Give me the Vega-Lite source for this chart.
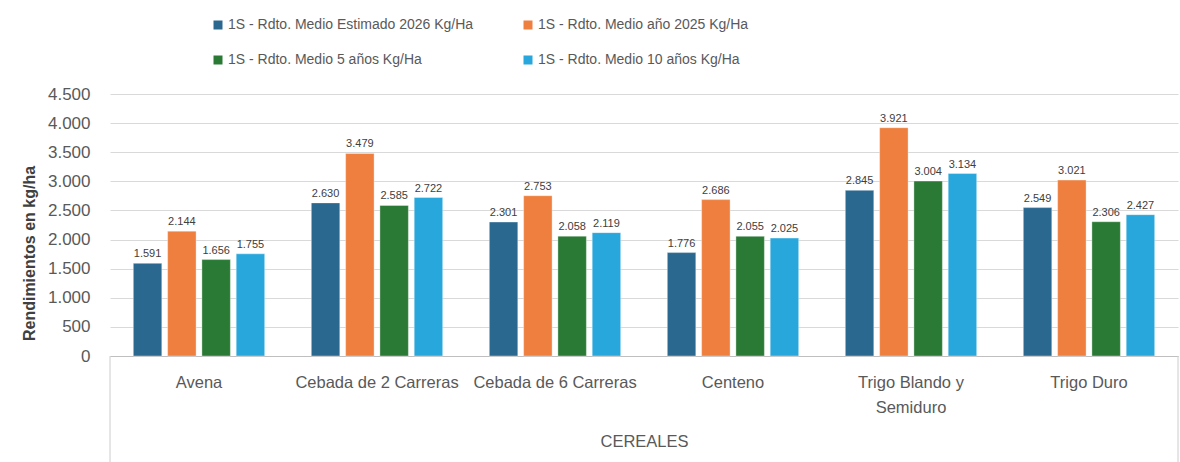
{
  "$schema": "https://vega.github.io/schema/vega-lite/v6.json",
  "width": 1068,
  "height": 262,
  "autosize": {"type": "none"},
  "padding": {"left": 110, "top": 94, "right": 2, "bottom": 106},
  "background": "white",
  "config": {
    "locale": {"number": {"decimal": ",", "thousands": ".", "grouping": [3], "currency": ["", " €"]}},
    "view": {"stroke": null},
    "font": "Liberation Sans"
  },
  "data": {
    "values": [
      {"cat": "Avena", "serie": "1S - Rdto. Medio Estimado 2026 Kg/Ha", "v": 1591},
      {"cat": "Avena", "serie": "1S - Rdto. Medio año 2025 Kg/Ha", "v": 2144},
      {"cat": "Avena", "serie": "1S - Rdto. Medio 5 años Kg/Ha", "v": 1656},
      {"cat": "Avena", "serie": "1S - Rdto. Medio 10 años Kg/Ha", "v": 1755},
      {"cat": "Cebada de 2 Carreras", "serie": "1S - Rdto. Medio Estimado 2026 Kg/Ha", "v": 2630},
      {"cat": "Cebada de 2 Carreras", "serie": "1S - Rdto. Medio año 2025 Kg/Ha", "v": 3479},
      {"cat": "Cebada de 2 Carreras", "serie": "1S - Rdto. Medio 5 años Kg/Ha", "v": 2585},
      {"cat": "Cebada de 2 Carreras", "serie": "1S - Rdto. Medio 10 años Kg/Ha", "v": 2722},
      {"cat": "Cebada de 6 Carreras", "serie": "1S - Rdto. Medio Estimado 2026 Kg/Ha", "v": 2301},
      {"cat": "Cebada de 6 Carreras", "serie": "1S - Rdto. Medio año 2025 Kg/Ha", "v": 2753},
      {"cat": "Cebada de 6 Carreras", "serie": "1S - Rdto. Medio 5 años Kg/Ha", "v": 2058},
      {"cat": "Cebada de 6 Carreras", "serie": "1S - Rdto. Medio 10 años Kg/Ha", "v": 2119},
      {"cat": "Centeno", "serie": "1S - Rdto. Medio Estimado 2026 Kg/Ha", "v": 1776},
      {"cat": "Centeno", "serie": "1S - Rdto. Medio año 2025 Kg/Ha", "v": 2686},
      {"cat": "Centeno", "serie": "1S - Rdto. Medio 5 años Kg/Ha", "v": 2055},
      {"cat": "Centeno", "serie": "1S - Rdto. Medio 10 años Kg/Ha", "v": 2025},
      {"cat": "Trigo Blando y Semiduro", "serie": "1S - Rdto. Medio Estimado 2026 Kg/Ha", "v": 2845},
      {"cat": "Trigo Blando y Semiduro", "serie": "1S - Rdto. Medio año 2025 Kg/Ha", "v": 3921},
      {"cat": "Trigo Blando y Semiduro", "serie": "1S - Rdto. Medio 5 años Kg/Ha", "v": 3004},
      {"cat": "Trigo Blando y Semiduro", "serie": "1S - Rdto. Medio 10 años Kg/Ha", "v": 3134},
      {"cat": "Trigo Duro", "serie": "1S - Rdto. Medio Estimado 2026 Kg/Ha", "v": 2549},
      {"cat": "Trigo Duro", "serie": "1S - Rdto. Medio año 2025 Kg/Ha", "v": 3021},
      {"cat": "Trigo Duro", "serie": "1S - Rdto. Medio 5 años Kg/Ha", "v": 2306},
      {"cat": "Trigo Duro", "serie": "1S - Rdto. Medio 10 años Kg/Ha", "v": 2427}
    ]
  },
  "layer": [
    {
      "mark": {"type": "bar", "stroke": "#ffffff", "strokeOpacity": 0.35, "strokeWidth": 1},
      "encoding": {
        "x": {
          "field": "cat", "type": "nominal",
          "sort": ["Avena", "Cebada de 2 Carreras", "Cebada de 6 Carreras", "Centeno", "Trigo Blando y Semiduro", "Trigo Duro"],
          "scale": {"paddingInner": 0, "paddingOuter": 0},
          "axis": {
            "title": "CEREALES",
            "titleFontSize": 16.5, "titleFontWeight": "normal", "titleColor": "#595959",
            "titleY": 85, "titleBaseline": "middle",
            "labelAngle": 0, "labelFontSize": 16.5, "labelColor": "#595959",
            "labelPadding": 18, "labelLineHeight": 25, "labelBaseline": "top",
            "labelExpr": "datum.label == 'Trigo Blando y Semiduro' ? ['Trigo Blando y', 'Semiduro'] : datum.label",
            "labelLimit": 0,
            "ticks": false, "domainColor": "#bfbfbf", "domainWidth": 1
          }
        },
        "xOffset": {
          "field": "serie", "type": "nominal",
          "sort": ["1S - Rdto. Medio Estimado 2026 Kg/Ha", "1S - Rdto. Medio año 2025 Kg/Ha", "1S - Rdto. Medio 5 años Kg/Ha", "1S - Rdto. Medio 10 años Kg/Ha"],
          "scale": {"paddingInner": 0.17, "paddingOuter": 0.68}
        },
        "y": {
          "field": "v", "type": "quantitative",
          "scale": {"domain": [0, 4500], "nice": false},
          "axis": {
            "title": "Rendimientos en kg/ha",
            "titleFontSize": 16, "titleFontWeight": "bold", "titleColor": "#404040",
            "titleAngle": 270, "titleX": -81, "titleY": 159, "titleAlign": "center", "titleBaseline": "middle",
            "values": [0, 500, 1000, 1500, 2000, 2500, 3000, 3500, 4000, 4500],
            "tickCount": 12,
            "format": ",.0f", "labelOverlap": false,
            "labelFontSize": 17, "labelColor": "#595959", "labelPadding": 20,
            "ticks": false, "domain": false,
            "gridColor": "#d9d9d9", "gridWidth": 1
          }
        },
        "color": {
          "field": "serie", "type": "nominal",
          "scale": {
            "domain": ["1S - Rdto. Medio Estimado 2026 Kg/Ha", "1S - Rdto. Medio año 2025 Kg/Ha", "1S - Rdto. Medio 5 años Kg/Ha", "1S - Rdto. Medio 10 años Kg/Ha"],
            "range": ["#2b6890", "#ee7f3e", "#2a7a36", "#28a7dc"]
          },
          "legend": {
            "orient": "none", "legendX": 101, "legendY": -76,
            "direction": "horizontal", "columns": 2, "columnPadding": 47, "rowPadding": 21,
            "title": null, "symbolType": "square", "symbolSize": 81, "symbolStrokeWidth": 0,
            "labelFontSize": 14, "labelFont": "Liberation Sans", "labelColor": "#595959",
            "labelOffset": 3, "labelLimit": 0, "padding": 0
          }
        }
      }
    },
    {
      "mark": {"type": "text", "fontSize": 11, "color": "#404040", "dy": -6, "baseline": "alphabetic"},
      "encoding": {
        "x": {"field": "cat", "type": "nominal", "sort": ["Avena", "Cebada de 2 Carreras", "Cebada de 6 Carreras", "Centeno", "Trigo Blando y Semiduro", "Trigo Duro"]},
        "xOffset": {"field": "serie", "type": "nominal", "sort": ["1S - Rdto. Medio Estimado 2026 Kg/Ha", "1S - Rdto. Medio año 2025 Kg/Ha", "1S - Rdto. Medio 5 años Kg/Ha", "1S - Rdto. Medio 10 años Kg/Ha"]},
        "y": {"field": "v", "type": "quantitative", "scale": {"domain": [0, 4500], "nice": false}},
        "text": {"field": "v", "type": "quantitative", "format": ",.0f"}
      }
    },
    {
      "transform": [{"filter": "datum.cat == 'Avena' && datum.serie == '1S - Rdto. Medio Estimado 2026 Kg/Ha'"}],
      "mark": {"type": "rule", "color": "#cccccc", "strokeWidth": 1},
      "encoding": {
        "x": {"field": "cat", "type": "nominal", "bandPosition": 0, "sort": ["Avena", "Cebada de 2 Carreras", "Cebada de 6 Carreras", "Centeno", "Trigo Blando y Semiduro", "Trigo Duro"]},
        "y": {"datum": 0, "type": "quantitative", "scale": {"domain": [0, 4500], "nice": false}},
        "y2": {"datum": -1821}
      }
    },
    {
      "transform": [{"filter": "datum.cat == 'Trigo Duro' && datum.serie == '1S - Rdto. Medio Estimado 2026 Kg/Ha'"}],
      "mark": {"type": "rule", "color": "#cccccc", "strokeWidth": 1},
      "encoding": {
        "x": {"field": "cat", "type": "nominal", "bandPosition": 1, "sort": ["Avena", "Cebada de 2 Carreras", "Cebada de 6 Carreras", "Centeno", "Trigo Blando y Semiduro", "Trigo Duro"]},
        "y": {"datum": 0, "type": "quantitative", "scale": {"domain": [0, 4500], "nice": false}},
        "y2": {"datum": -1821}
      }
    }
  ]
}
